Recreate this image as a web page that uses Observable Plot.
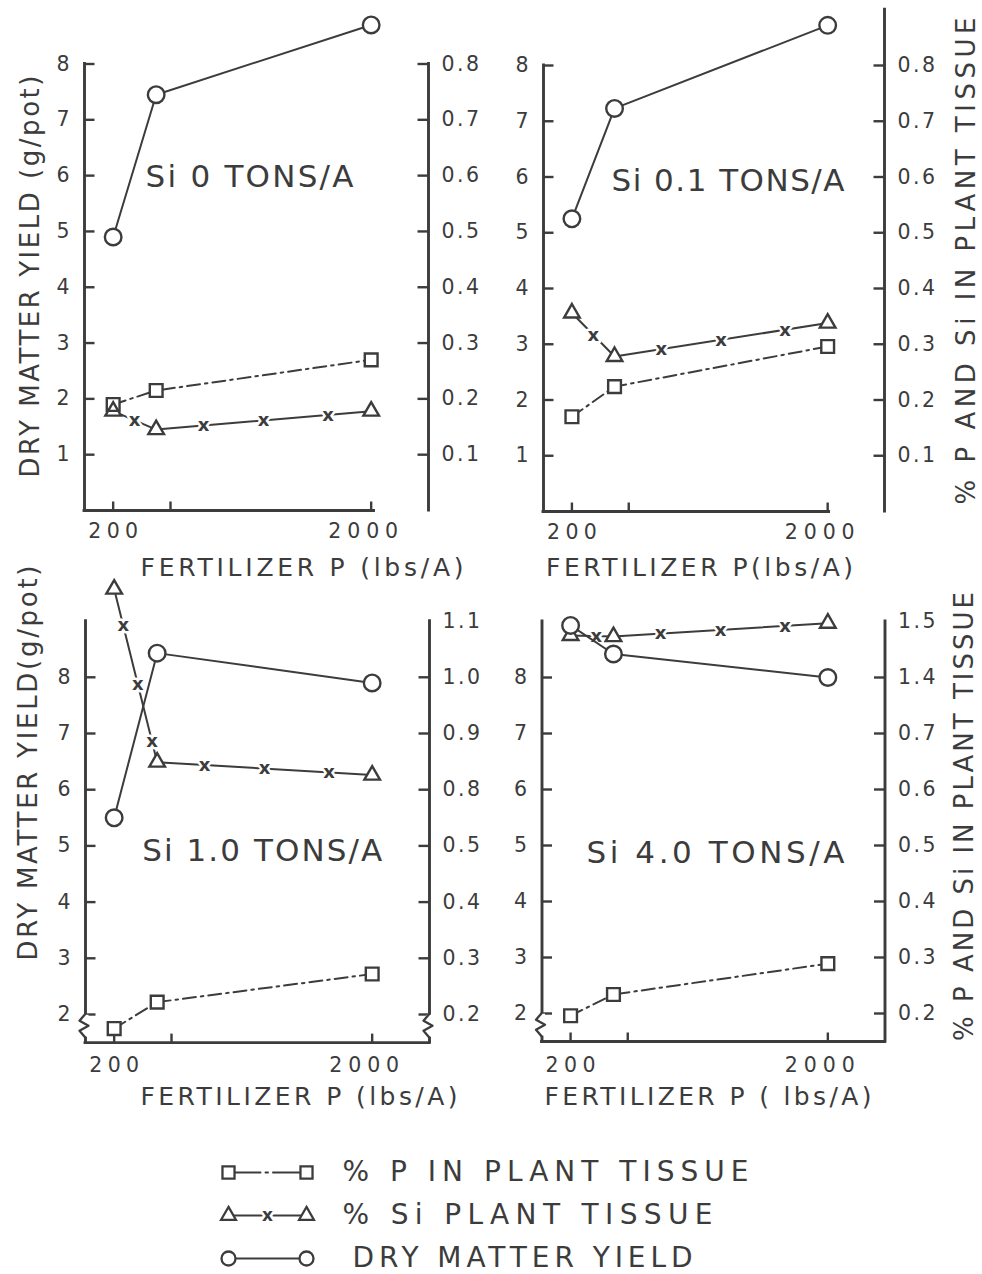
<!DOCTYPE html>
<html>
<head>
<meta charset="utf-8">
<script src="https://cdn.jsdelivr.net/npm/d3@7"></script>
<script src="https://cdn.jsdelivr.net/npm/@observablehq/plot@0.6"></script>
<style>
  html, body { margin: 0; padding: 0; background: #ffffff; }
  #chart { position: relative; width: 982px; height: 1274px; overflow: hidden; background: #ffffff; }
  #chart > svg { position: absolute; }
</style>
</head>
<body>
<div id="chart"></div>
<script>
// ---------------- DATA ----------------
const fertilizerP = [200, 500, 2000];            // lbs/A
const xTicks = [200, 600, 2000];
const xTickLabels = ["200", "", "2000"];

const panelTitles = ["Si 0 TONS/A", "Si 0.1 TONS/A", "Si 1.0 TONS/A", "Si 4.0 TONS/A"];

// dry matter yield (g/pot)
const yieldSi0  = [4.9, 7.45, 8.7];
const yieldSi01 = [5.25, 7.23, 8.72];
const yieldSi10 = [5.5, 8.43, 7.9];
const yieldSi40 = [8.93, 8.42, 8.0];

// % P in plant tissue
const pctP_Si0  = [0.19, 0.215, 0.27];
const pctP_Si01 = [0.17, 0.224, 0.296];
const pctP_Si10 = [0.175, 0.222, 0.272];
const pctP_Si40 = [0.196, 0.234, 0.289];

// % Si in plant tissue
const pctSi_Si0  = [0.178, 0.145, 0.178];
const pctSi_Si01 = [0.356, 0.278, 0.338];
const pctSi_Si10 = [1.157, 0.849, 0.826];
const pctSi_Si40 = [1.475, 1.473, 1.497];

// left (yield) axis ticks
const yieldTicksTop = [1, 2, 3, 4, 5, 6, 7, 8];
const yieldTicksBottom = [2, 3, 4, 5, 6, 7, 8];

// right (% P and Si) axis tick labels and the yield tick each one sits on (broken scales)
const pctLabelsTop  = ["0.1", "0.2", "0.3", "0.4", "0.5", "0.6", "0.7", "0.8"];
const pctAlignTop   = [1, 2, 3, 4, 5, 6, 7, 8];
const pctLabelsSi10 = ["0.2", "0.3", "0.4", "0.5", "0.8", "0.9", "1.0", "1.1"];
const pctLabelsSi40 = ["0.2", "0.3", "0.4", "0.5", "0.6", "0.7", "1.4", "1.5"];
const pctAlignBottom = [2, 3, 4, 5, 6, 7, 8, 9];

const leftTitles = ["DRY MATTER YIELD (g/pot)", "DRY MATTER YIELD(g/pot)"];
const rightTitle = "% P AND Si IN PLANT TISSUE";
const xTitles = ["FERTILIZER P (lbs/A)", "FERTILIZER P(lbs/A)", "FERTILIZER P (lbs/A)", "FERTILIZER P ( lbs/A)"];
const legendLabels = ["% P IN PLANT TISSUE", "% Si PLANT TISSUE", "DRY MATTER YIELD"];

// ---------------- STYLE / LAYOUT ----------------
const INK = "#3c3c3c";
const FONT = "DejaVu Sans, sans-serif";

const tickRightSym = {draw(c) { c.moveTo(0, 0); c.lineTo(10, 0); }};
const tickLeftSym  = {draw(c) { c.moveTo(0, 0); c.lineTo(-11, 0); }};
const tickUpSym    = {draw(c) { c.moveTo(0, 0); c.lineTo(0, -9); }};
const gapSym       = {draw(c) { c.moveTo(0, -11); c.lineTo(0, 11); }};
const zigSym       = {draw(c) { c.moveTo(0, -12); c.lineTo(-6, -5); c.lineTo(3, 0); c.lineTo(-6, 5); c.lineTo(0, 12); }};

const segTwoMarks = [0.22, 0.5, 0.8];

const panels = [
  {title: panelTitles[0], yieldVals: yieldSi0,  pVals: pctP_Si0,  siVals: pctSi_Si0,
   leftTicks: yieldTicksTop, pctLabels: pctLabelsTop, pctAlign: pctAlignTop,
   xTitle: xTitles[0], leftTitle: leftTitles[0], rightTitle: null},
  {title: panelTitles[1], yieldVals: yieldSi01, pVals: pctP_Si01, siVals: pctSi_Si01,
   leftTicks: yieldTicksTop, pctLabels: pctLabelsTop, pctAlign: pctAlignTop,
   xTitle: xTitles[1], leftTitle: null, rightTitle: rightTitle},
  {title: panelTitles[2], yieldVals: yieldSi10, pVals: pctP_Si10, siVals: pctSi_Si10,
   leftTicks: yieldTicksBottom, pctLabels: pctLabelsSi10, pctAlign: pctAlignBottom,
   xTitle: xTitles[2], leftTitle: leftTitles[1], rightTitle: null},
  {title: panelTitles[3], yieldVals: yieldSi40, pVals: pctP_Si40, siVals: pctSi_Si40,
   leftTicks: yieldTicksBottom, pctLabels: pctLabelsSi40, pctAlign: pctAlignBottom,
   xTitle: xTitles[3], leftTitle: null, rightTitle: rightTitle}
];

const frames = [
  {left: 0, top: 0, w: 491, h: 600, x0: 84, x1: 428, yDom: [0, 8], yLoPx: 510, yHiPx: 63.5,
   leftTop: 8, rightTop: 8, bottomEnd: 2020, breaks: [], breakY: 1.8, seg1: [0.5],
   titleAt: [249, 177, 208], xTitleAt: [301.5, 567, 323], leftTitleAt: [30.5, 276, 402], rightTitleAt: null,
   xLabelDy: 21},
  {left: 491, top: 0, w: 491, h: 600, x0: 543, x1: 884, yDom: [0, 8], yLoPx: 511, yHiPx: 65,
   leftTop: 8, rightTop: 9, bottomEnd: 2010, breaks: [], breakY: 1.8, seg1: [0.5],
   titleAt: [727.5, 181, 233], xTitleAt: [699, 567, 307], leftTitleAt: null, rightTitleAt: [966, 260.5, 487],
   xLabelDy: 21},
  {left: 0, top: 590, w: 491, h: 540, x0: 85, x1: 429, yDom: [1.5, 9], yLoPx: 1042.1, yHiPx: 620.6,
   leftTop: 9, rightTop: 9, bottomEnd: 2400, breaks: [0, 2400], breakY: 1.8, seg1: [0.21, 0.55, 0.88],
   titleAt: [261.7, 851, 240], xTitleAt: [298.5, 1096, 317], leftTitleAt: [28, 762.5, 395], rightTitleAt: null,
   xLabelDy: 23},
  {left: 491, top: 590, w: 491, h: 540, x0: 541.5, x1: 884.5, yDom: [1.5, 9], yLoPx: 1041, yHiPx: 621,
   leftTop: 9, rightTop: 9, bottomEnd: 2400, breaks: [0], breakY: 1.8, seg1: [0.6],
   titleAt: [715, 853, 258], xTitleAt: [707.5, 1096, 327], leftTitleAt: null, rightTitleAt: [964, 816, 449],
   xLabelDy: 24}
];
const xLabelDx = [0, 0, -8];

const root = document.getElementById("chart");

function fitTexts(svg, lens) {
  svg.querySelectorAll("text").forEach(t => {
    const s = t.textContent;
    if (lens[s] != null) {
      t.setAttribute("textLength", lens[s]);
      t.setAttribute("lengthAdjust", "spacing");
    } else if (/^[0-9.]+$/.test(s) && s.length > 1) {
      t.style.letterSpacing = "2.5px";
    }
  });
}

function makePanel(d, f) {
  const mL = f.x0 - f.left, mR = f.left + f.w - f.x1;
  const mT = f.yHiPx - f.top, mB = f.top + f.h - f.yLoPx;
  const yLo = f.yDom[0];
  const toPos = d3.scaleLinear().domain(d.pctLabels.map(Number)).range(d.pctAlign);
  const rows = fertilizerP.map((p, i) => ({
    p, yield: d.yieldVals[i], pPos: toPos(d.pVals[i]), siPos: toPos(d.siVals[i])
  }));
  const siMarks = [];
  [[0, f.seg1], [1, segTwoMarks]].forEach(([k, ts]) => ts.forEach(t => siMarks.push({
    p: rows[k].p + t * (rows[k + 1].p - rows[k].p),
    pos: rows[k].siPos + t * (rows[k + 1].siPos - rows[k].siPos)
  })));
  const rightTicks = d.pctAlign.map((pos, i) => ({pos, label: d.pctLabels[i]}));
  const at = (ax, ay) => ({frameAnchor: "top-left", dx: ax - f.x0, dy: ay - f.yHiPx});
  const axisStyle = {stroke: INK, strokeWidth: 2.9, strokeLinecap: "square"};
  const tickStyle = {stroke: INK, strokeWidth: 2.4, fill: "none"};
  const lineStyle = {stroke: INK, strokeWidth: 2};
  const lens = {"200": 50, "2000": 70};

  const marks = [
    Plot.ruleX([0], {y1: yLo, y2: f.leftTop, ...axisStyle}),
    Plot.ruleX([2400], {y1: yLo, y2: f.rightTop, ...axisStyle}),
    Plot.ruleY([yLo], {x1: 0, x2: f.bottomEnd, ...axisStyle}),
    Plot.dot(d.leftTicks, {x: () => 0, y: v => v, symbol: tickRightSym, ...tickStyle}),
    Plot.dot(rightTicks.filter(t => t.pos <= 8), {x: () => 2400, y: "pos", symbol: tickLeftSym, ...tickStyle}),
    Plot.dot(xTicks, {x: v => v, y: () => yLo, symbol: tickUpSym, ...tickStyle}),
    Plot.dot(f.breaks, {x: v => v, y: () => f.breakY, symbol: gapSym, stroke: "white", strokeWidth: 6, fill: "none"}),
    Plot.dot(f.breaks, {x: v => v, y: () => f.breakY, symbol: zigSym, stroke: INK, strokeWidth: 2.3, fill: "none", strokeLinejoin: "round"}),
    Plot.text(d.leftTicks, {x: () => 0, y: v => v, text: v => String(v), textAnchor: "end", dx: -15, fontSize: 20.5, fill: INK}),
    Plot.text(rightTicks, {x: () => 2400, y: "pos", text: "label", textAnchor: "start", dx: 13, fontSize: 20.5, fill: INK})
  ];
  xTicks.forEach((v, i) => {
    if (xTickLabels[i]) marks.push(Plot.text([v], {x: t => t, y: () => yLo, text: () => xTickLabels[i],
      dy: f.xLabelDy, dx: xLabelDx[i], fontSize: 20.5, fill: INK}));
  });
  marks.push(
    Plot.line(rows, {x: "p", y: "pPos", ...lineStyle, strokeDasharray: "13,5,2.5,5"}),
    Plot.line(rows, {x: "p", y: "siPos", ...lineStyle}),
    Plot.text(siMarks, {x: "p", y: "pos", text: () => "x", fontSize: 18, fontWeight: "bold", fill: INK,
      stroke: "white", strokeWidth: 5, paintOrder: "stroke"}),
    Plot.line(rows, {x: "p", y: "yield", ...lineStyle}),
    Plot.dot(rows, {x: "p", y: "pPos", symbol: "square", r: 7.2, fill: "white", stroke: "none"}),
    Plot.dot(rows, {x: "p", y: "siPos", symbol: "triangle", r: 5.8, fill: "white", stroke: "none"}),
    Plot.dot(rows, {x: "p", y: "pPos", symbol: "square", r: 7.2, fill: "none", stroke: INK, strokeWidth: 2.4}),
    Plot.dot(rows, {x: "p", y: "siPos", symbol: "triangle", r: 5.8, fill: "none", stroke: INK, strokeWidth: 2.4, strokeLinejoin: "miter"}),
    Plot.dot(rows, {x: "p", y: "yield", r: 8.3, fill: "white", stroke: INK, strokeWidth: 2.4})
  );
  // panel label and axis titles
  marks.push(Plot.text([d.title], {...at(f.titleAt[0], f.titleAt[1]), text: t => t, textAnchor: "middle", lineAnchor: "middle", fontSize: 31, fill: INK}));
  lens[d.title] = f.titleAt[2];
  marks.push(Plot.text([d.xTitle], {...at(f.xTitleAt[0], f.xTitleAt[1]), text: t => t, textAnchor: "middle", lineAnchor: "middle", fontSize: 25, fill: INK}));
  lens[d.xTitle] = f.xTitleAt[2];
  if (d.leftTitle) {
    marks.push(Plot.text([d.leftTitle], {...at(f.leftTitleAt[0], f.leftTitleAt[1]), text: t => t, rotate: -90, textAnchor: "middle", lineAnchor: "middle", fontSize: 26, fill: INK}));
    lens[d.leftTitle] = f.leftTitleAt[2];
  }
  if (d.rightTitle) {
    marks.push(Plot.text([d.rightTitle], {...at(f.rightTitleAt[0], f.rightTitleAt[1]), text: t => t, rotate: -90, textAnchor: "middle", lineAnchor: "middle", fontSize: 26, fill: INK}));
    lens[d.rightTitle] = f.rightTitleAt[2];
  }

  const svg = Plot.plot({
    width: f.w, height: f.h,
    marginLeft: mL, marginRight: mR, marginTop: mT, marginBottom: mB,
    x: {domain: [0, 2400], axis: null},
    y: {domain: f.yDom, axis: null},
    style: {background: "transparent", overflow: "visible", color: INK, fontFamily: FONT},
    marks
  });
  svg.style.left = f.left + "px";
  svg.style.top = f.top + "px";
  svg.style.overflow = "visible";
  fitTexts(svg, lens);
  root.appendChild(svg);
}

panels.forEach((d, i) => makePanel(d, frames[i]));

// ---------------- LEGEND ----------------
(function makeLegend() {
  const symbols = ["square", "triangle", "circle"];
  const radii = [6.8, 5.5, 7];
  const dashes = ["32,5,2.5,5,40", null, null];
  const textDx = [36, 36, 46];
  const lens = {};
  lens[legendLabels[0]] = 406; lens[legendLabels[1]] = 370; lens[legendLabels[2]] = 340;
  const marks = [];
  legendLabels.forEach((label, i) => {
    const lo = {x: v => v, y: () => label, stroke: INK, strokeWidth: 2};
    if (dashes[i]) lo.strokeDasharray = dashes[i];
    marks.push(Plot.line([0, 1], lo));
    if (i === 1) marks.push(Plot.text([0.5], {x: v => v, y: () => label, text: () => "x", fontSize: 17, fontWeight: "bold",
      fill: INK, stroke: "white", strokeWidth: 5, paintOrder: "stroke"}));
    marks.push(Plot.dot([0, 1], {x: v => v, y: () => label, symbol: symbols[i], r: radii[i], fill: "white", stroke: INK, strokeWidth: 2.3}));
    marks.push(Plot.text([label], {x: () => 1, y: t => t, text: t => t, textAnchor: "start", dx: textDx[i], fontSize: 28, fill: INK}));
  });
  const svg = Plot.plot({
    width: 982, height: 134,
    marginLeft: 228, marginRight: 676, marginTop: 31, marginBottom: 16,
    x: {domain: [0, 1], axis: null},
    y: {type: "point", domain: legendLabels, padding: 0, axis: null},
    style: {background: "transparent", overflow: "visible", color: INK, fontFamily: FONT},
    marks
  });
  svg.style.left = "0px";
  svg.style.top = "1140px";
  fitTexts(svg, lens);
  root.appendChild(svg);
})();
</script>
</body>
</html>
